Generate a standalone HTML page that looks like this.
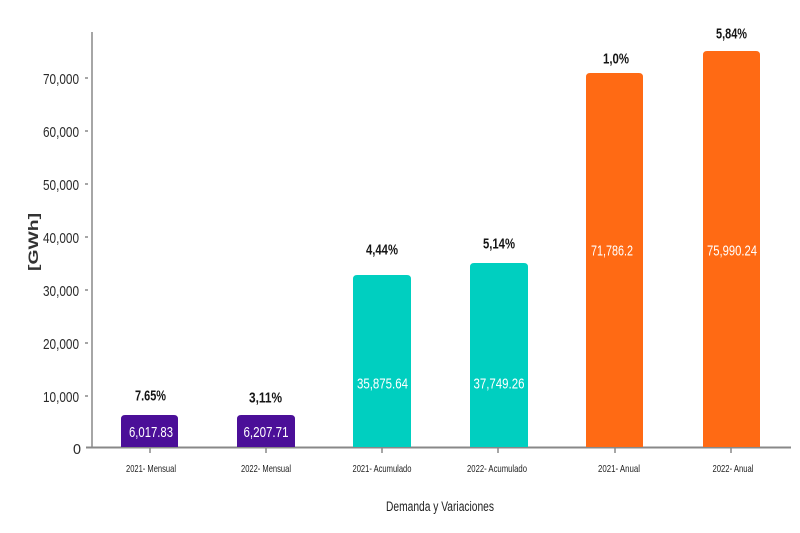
<!DOCTYPE html>
<html><head><meta charset="utf-8"><style>
html,body{margin:0;padding:0;background:#fff;}
svg{display:block;}
text{font-family:"Liberation Sans",sans-serif;}
</style></head><body>
<svg width="800" height="533" viewBox="0 0 800 533" xmlns="http://www.w3.org/2000/svg">
<rect width="800" height="533" fill="#fff"/>
<!-- axes -->
<line x1="92" y1="32" x2="92" y2="448" stroke="#888" stroke-width="1.5"/>
<line x1="86" y1="447.5" x2="791" y2="447.5" stroke="#888" stroke-width="2"/>
<!-- y ticks -->
<g stroke="#888" stroke-width="1.5">
<line x1="85" y1="78" x2="88" y2="78"/>
<line x1="85" y1="131" x2="88" y2="131"/>
<line x1="85" y1="184" x2="88" y2="184"/>
<line x1="85" y1="237" x2="88" y2="237"/>
<line x1="85" y1="290" x2="88" y2="290"/>
<line x1="85" y1="343" x2="88" y2="343"/>
<line x1="85" y1="396" x2="88" y2="396"/>
</g>
<g fill="#2a2a2a" font-size="15" text-anchor="end">
<text x="79" y="84" textLength="36" lengthAdjust="spacingAndGlyphs">70,000</text>
<text x="79" y="137" textLength="36" lengthAdjust="spacingAndGlyphs">60,000</text>
<text x="79" y="190" textLength="36" lengthAdjust="spacingAndGlyphs">50,000</text>
<text x="79" y="243" textLength="36" lengthAdjust="spacingAndGlyphs">40,000</text>
<text x="79" y="296" textLength="36" lengthAdjust="spacingAndGlyphs">30,000</text>
<text x="79" y="349" textLength="36" lengthAdjust="spacingAndGlyphs">20,000</text>
<text x="79" y="402" textLength="36" lengthAdjust="spacingAndGlyphs">10,000</text>
<text x="81" y="454" textLength="8" lengthAdjust="spacingAndGlyphs">0</text>
</g>
<text transform="translate(38,242) rotate(-90)" text-anchor="middle" font-size="14" font-weight="600" fill="#333" textLength="58" lengthAdjust="spacingAndGlyphs">[GWh]</text>
<!-- x ticks -->
<g stroke="#888" stroke-width="1.5">
<line x1="150" y1="448" x2="150" y2="453"/>
<line x1="266" y1="448" x2="266" y2="453"/>
<line x1="382" y1="448" x2="382" y2="453"/>
<line x1="498" y1="448" x2="498" y2="453"/>
<line x1="615" y1="448" x2="615" y2="453"/>
<line x1="731" y1="448" x2="731" y2="453"/>
</g>
<g fill="#222" font-size="10.5" text-anchor="middle">
<text x="151" y="472" textLength="50" lengthAdjust="spacingAndGlyphs">2021- Mensual</text>
<text x="266" y="472" textLength="50" lengthAdjust="spacingAndGlyphs">2022- Mensual</text>
<text x="382" y="472" textLength="59" lengthAdjust="spacingAndGlyphs">2021- Acumulado</text>
<text x="497" y="472" textLength="60" lengthAdjust="spacingAndGlyphs">2022- Acumulado</text>
<text x="619" y="472" textLength="42" lengthAdjust="spacingAndGlyphs">2021- Anual</text>
<text x="733" y="472" textLength="41" lengthAdjust="spacingAndGlyphs">2022- Anual</text>
</g>
<text x="440" y="511" text-anchor="middle" font-size="13.5" fill="#222" textLength="108" lengthAdjust="spacingAndGlyphs">Demanda y Variaciones</text>
<!-- bars -->
<path d="M121,447 V419 Q121,415 125,415 H174 Q178,415 178,419 V447 Z" fill="#4B0F98"/>
<path d="M237,447 V419 Q237,415 241,415 H291 Q295,415 295,419 V447 Z" fill="#4B0F98"/>
<path d="M353,447 V279 Q353,275 357,275 H407 Q411,275 411,279 V447 Z" fill="#00CFC0"/>
<path d="M470,447 V267 Q470,263 474,263 H524 Q528,263 528,267 V447 Z" fill="#00CFC0"/>
<path d="M586,447 V77 Q586,73 590,73 H639 Q643,73 643,77 V447 Z" fill="#FF6A14"/>
<path d="M703,447 V55 Q703,51 707,51 H756 Q760,51 760,55 V447 Z" fill="#FF6A14"/>
<!-- value labels -->
<g fill="#fff" font-size="15" text-anchor="middle">
<text x="151" y="437" textLength="44" lengthAdjust="spacingAndGlyphs">6,017.83</text>
<text x="266" y="437" textLength="45" lengthAdjust="spacingAndGlyphs">6,207.71</text>
<text x="382.5" y="388.5" textLength="51" lengthAdjust="spacingAndGlyphs">35,875.64</text>
<text x="499" y="388.5" textLength="51" lengthAdjust="spacingAndGlyphs">37,749.26</text>
<text x="612" y="255.5" textLength="42" lengthAdjust="spacingAndGlyphs">71,786.2</text>
<text x="732" y="255.5" textLength="50" lengthAdjust="spacingAndGlyphs">75,990.24</text>
</g>
<!-- percent labels -->
<g fill="#151515" font-size="15" font-weight="bold" text-anchor="middle">
<text x="150.5" y="400.5" textLength="31" lengthAdjust="spacingAndGlyphs">7.65%</text>
<text x="265.5" y="402.5" textLength="33" lengthAdjust="spacingAndGlyphs">3,11%</text>
<text x="382" y="254.5" textLength="32" lengthAdjust="spacingAndGlyphs">4,44%</text>
<text x="499" y="248.5" textLength="32" lengthAdjust="spacingAndGlyphs">5,14%</text>
<text x="616" y="63.5" textLength="26" lengthAdjust="spacingAndGlyphs">1,0%</text>
<text x="731.5" y="38.5" textLength="31" lengthAdjust="spacingAndGlyphs">5,84%</text>
</g>
</svg>
</body></html>
